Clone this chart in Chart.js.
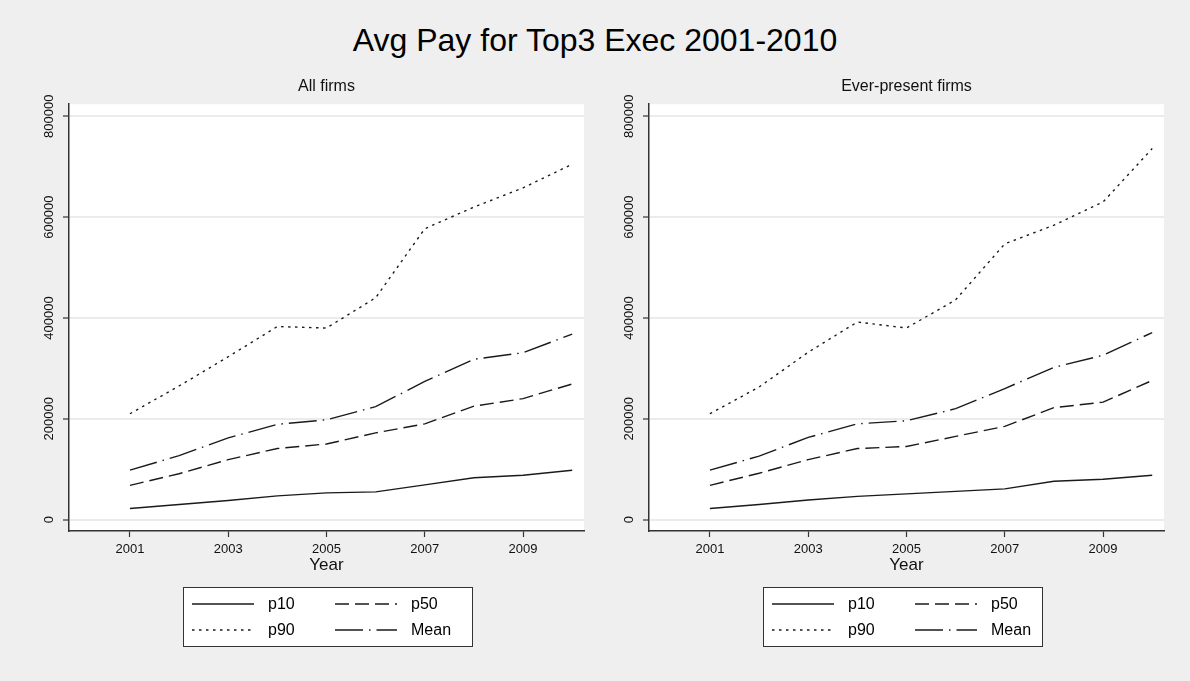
<!DOCTYPE html>
<html>
<head>
<meta charset="utf-8">
<script src="https://cdn.jsdelivr.net/npm/chart.js@4.4.1/dist/chart.umd.min.js"></script>
<style>
  body { margin: 0; background: #efefef; width: 1190px; height: 681px; overflow: hidden; position: relative;
         font-family: "Liberation Sans", Arial, sans-serif; }
  #title { position: absolute; left: 0; top: 22px; width: 1190px; text-align: center; font-size: 32px; color: #000; }
  canvas { position: absolute; top: 0; }
</style>
</head>
<body>
<div id="title">Avg Pay for Top3 Exec 2001-2010</div>
<canvas id="allFirms" width="595" height="681" style="left:0"></canvas>
<canvas id="everPresent" width="595" height="681" style="left:580px"></canvas>
<script>
const years = [2001, 2002, 2003, 2004, 2005, 2006, 2007, 2008, 2009, 2010];
const seriesLabels = ["p10", "p50", "p90", "Mean"];

// All firms
const allP10  = [22000, 30000, 38000, 47000, 53000, 55000, 69000, 83000, 88000, 98000];
const allP50  = [68000, 91000, 119000, 141000, 150000, 172000, 190000, 225000, 240000, 269000];
const allP90  = [210000, 265000, 323000, 383000, 380000, 440000, 577000, 620000, 658000, 705000];
const allMean = [98000, 127000, 162000, 189000, 198000, 224000, 274000, 318000, 331000, 368000];

// Ever-present firms
const evP10  = [22000, 30000, 39000, 46000, 51000, 56000, 61000, 76000, 80000, 88000];
const evP50  = [68000, 92000, 119000, 141000, 145000, 165000, 185000, 222000, 233000, 276000];
const evP90  = [210000, 263000, 332000, 392000, 380000, 436000, 547000, 584000, 630000, 736000];
const evMean = [98000, 126000, 163000, 190000, 196000, 220000, 260000, 302000, 326000, 371000];

const xTicks = [2001, 2003, 2005, 2007, 2009];
const yTicks = [0, 200000, 400000, 600000, 800000];

const fontFamily = '"Liberation Sans", Arial, sans-serif';
const dashes = [[], [14, 6], [2.5, 4.5], [28, 6, 1.5, 6]];

// white plot region like the Stata graph
const plotBackground = {
  id: 'plotBackground',
  beforeDraw(chart) {
    const {ctx, chartArea: a} = chart;
    ctx.save();
    ctx.fillStyle = '#ffffff';
    ctx.fillRect(a.left, a.top, a.right - a.left, a.bottom - a.top);
    ctx.restore();
  }
};

// boxed two-column legend under the plot
const boxLegend = {
  id: 'boxLegend',
  afterDraw(chart, args, opts) {
    const ctx = chart.ctx;
    const x0 = opts.left, y0 = opts.top;
    ctx.save();
    ctx.fillStyle = '#ffffff';
    ctx.fillRect(x0, y0, opts.width, opts.height);
    ctx.strokeStyle = '#333333';
    ctx.lineWidth = 1;
    ctx.strokeRect(x0 + 0.5, y0 + 0.5, opts.width, opts.height);
    ctx.font = '16px ' + fontFamily;
    ctx.textBaseline = 'middle';
    chart.data.datasets.forEach((ds, i) => {
      const col = i % 2, row = Math.floor(i / 2);
      const ly = y0 + 17 + row * 26;
      const lx = x0 + 9 + col * 143;
      ctx.setLineDash(ds.borderDash || []);
      ctx.strokeStyle = ds.borderColor;
      ctx.lineWidth = ds.borderWidth;
      ctx.beginPath();
      ctx.moveTo(lx, ly);
      ctx.lineTo(lx + 62, ly);
      ctx.stroke();
      ctx.setLineDash([]);
      ctx.fillStyle = '#000000';
      ctx.fillText(ds.label, lx + 76, ly + 1);
    });
    ctx.restore();
  }
};

function makeChart(id, subtitle, sets, legendWidth) {
  const datasets = seriesLabels.map((lab, i) => ({
    label: lab,
    data: years.map((yr, j) => ({x: yr, y: sets[i][j]})),
    borderColor: '#1a1a1a',
    borderWidth: 1.4,
    borderDash: dashes[i],
    pointRadius: 0,
    tension: 0,
    fill: false
  }));

  return new Chart(document.getElementById(id), {
    type: 'line',
    data: {datasets: datasets},
    options: {
      responsive: false,
      animation: false,
      layout: {padding: {left: 0, right: 11, top: 0, bottom: 105}},
      plugins: {
        legend: {display: false},
        tooltip: {enabled: false},
        title: {
          display: true,
          text: subtitle,
          fullSize: false,
          color: '#111111',
          font: {size: 16, family: fontFamily, weight: 'normal'},
          padding: {top: 77, bottom: 8}
        },
        boxLegend: {left: 183, top: 587, width: legendWidth, height: 59}
      },
      scales: {
        x: {
          type: 'linear',
          min: 1999.76,
          max: 2010.24,
          afterBuildTicks: s => { s.ticks = xTicks.map(v => ({value: v})); },
          afterFit: s => { s.height = 45; },
          grid: {drawOnChartArea: false, tickLength: 6, tickColor: '#333333', tickWidth: 1.2},
          border: {color: '#333333', width: 1.5},
          ticks: {color: '#111111', font: {size: 13, family: fontFamily}, padding: 5,
                  maxRotation: 0, callback: v => String(v)},
          title: {display: true, text: 'Year', color: '#111111',
                  font: {size: 17, family: fontFamily}, padding: 0}
        },
        y: {
          min: -22600,
          max: 824000,
          afterBuildTicks: s => { s.ticks = yTicks.map(v => ({value: v})); },
          afterFit: s => { s.width = 69; },
          grid: {color: '#ebebeb', lineWidth: 2, tickLength: 6, tickColor: '#333333', tickWidth: 1.2},
          border: {color: '#333333', width: 1.5},
          ticks: {color: '#111111', font: {size: 13, family: fontFamily}, minRotation: 90, maxRotation: 90,
                  crossAlign: 'center', padding: -8, callback: v => String(v)}
        }
      }
    },
    plugins: [plotBackground, boxLegend]
  });
}

makeChart('allFirms', 'All firms', [allP10, allP50, allP90, allMean], 289);
makeChart('everPresent', 'Ever-present firms', [evP10, evP50, evP90, evMean], 279);
</script>
</body>
</html>
